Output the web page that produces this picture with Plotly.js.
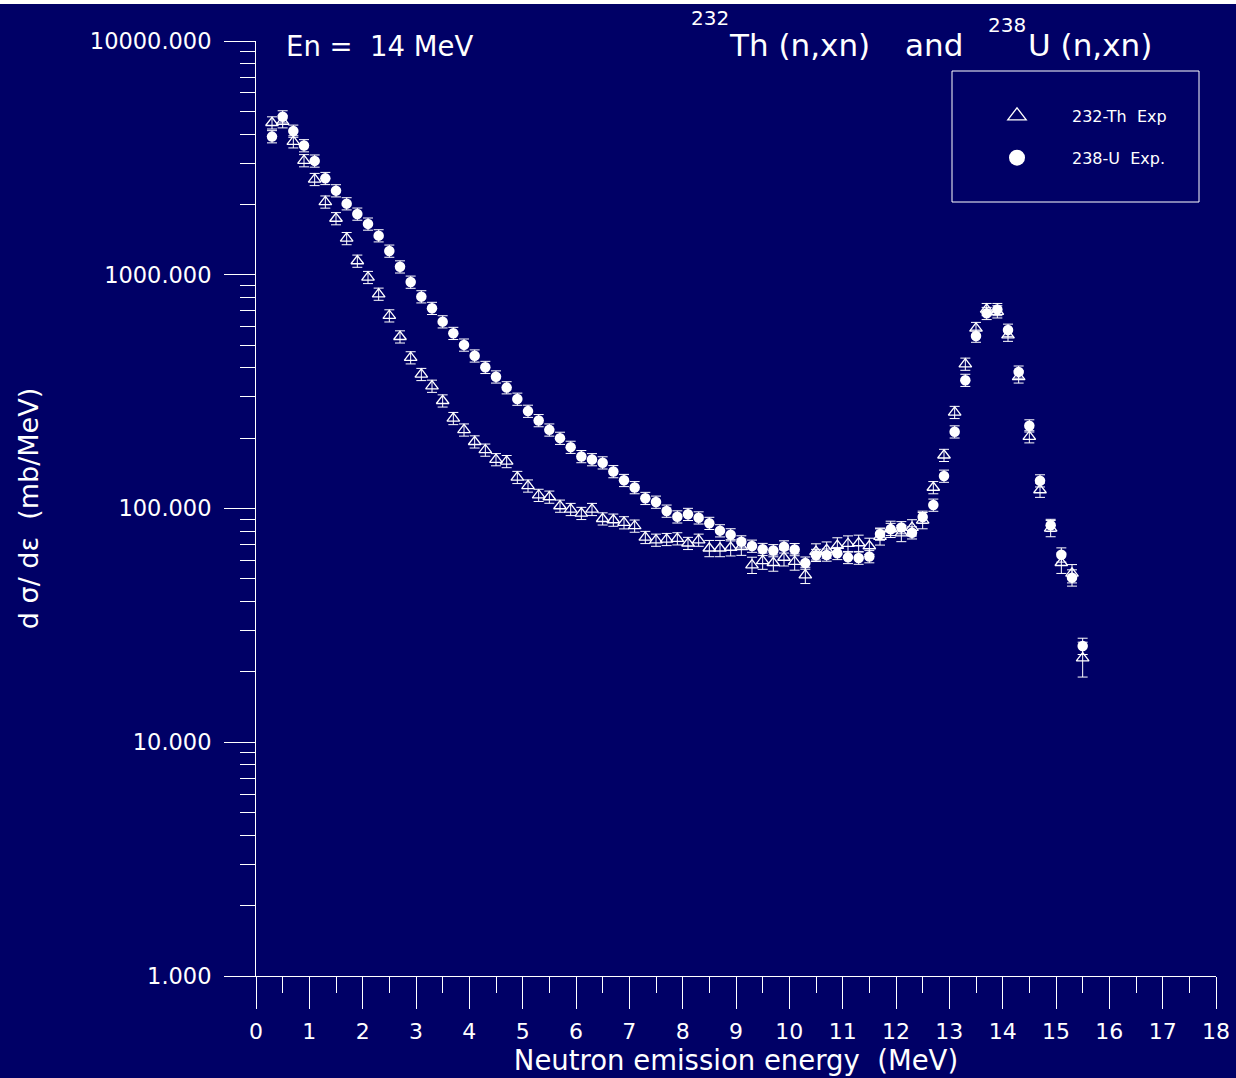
<!DOCTYPE html>
<html>
<head>
<meta charset="utf-8">
<script src="https://cdn.plot.ly/plotly-3.0.1.min.js"></script>
<style>
  html, body { margin: 0; padding: 0; background: #000066; }
  #chart { width: 1236px; height: 1078px; }
</style>
</head>
<body>
<div id="chart"></div>
<script>
// Neutron emission energy (MeV)
const energy = [0.3,0.5,0.7,0.9,1.1,1.3,1.5,1.7,1.9,2.1,2.3,2.5,2.7,2.9,3.1,3.3,3.5,3.7,3.9,4.1,
  4.3,4.5,4.7,4.9,5.1,5.3,5.5,5.7,5.9,6.1,6.3,6.5,6.7,6.9,7.1,7.3,7.5,7.7,7.9,8.1,
  8.3,8.5,8.7,8.9,9.1,9.3,9.5,9.7,9.9,10.1,10.3,10.5,10.7,10.9,11.1,11.3,11.5,11.7,11.9,12.1,
  12.3,12.5,12.7,12.9,13.1,13.3,13.5,13.7,13.9,14.1,14.3,14.5,14.7,14.9,15.1,15.3,15.5];

// 232-Th experimental dσ/dε (mb/MeV)
const thValues = [4470,4520,3710,3080,2560,2050,1740,1430,1145,975,
  827,668,543,442,375,334,289,243,217,193,
  178,162,159,136,125,114,112,102.5,99.2,95.4,
  99.2,90.4,89.3,87.0,84.2,75.3,73.3,73.8,74.3,71.0,
  73.3,67.6,67.6,68.1,68.5,57.3,59.7,58.6,61.7,59.2,
  51.9,65.4,66.6,69.4,70.7,71.2,69.1,75.8,81.7,78.4,
  82.9,89.0,123,169,258,415,590,711,695,552,
  366,203,120,82.3,58.6,52.8,22.9];
const thErrPct = [6,6,6,6,6,6,6,6,6,6, 6,6,6,6,6,6,6,6,6,6,
  6,6,6,6,6,6,6,6,6,6, 6,6,6,6,6,6,6,6,6,6,
  6,8,8,8,8,8,8,8,8,8, 8,8,8,8,8,8,8,8,8,8,
  8,8,6,6,6,6,6,6,6,6, 6,6,7,8,10,9,17];

// 238-U experimental dσ/dε (mb/MeV)
const uValues = [3900,4745,4120,3570,3070,2585,2290,2015,1820,1650,
  1470,1264,1082,931,806,719,630,562,501,450,
  402,366,329,294,261,238,217,200,183,167,
  162,157,144,132,123,110.6,106.6,97.6,92.2,94.5,
  91.3,86.5,80.4,77.3,72.1,69.1,66.9,66.1,68.6,66.8,
  58.5,63.1,63.3,64.3,61.8,61.4,62.3,77.8,81.5,82.9,
  78.8,91.9,103.5,137.7,213,354,547,684,711,580,
  384,226,131.5,84.8,63.4,50.6,25.8];
const uErrPct = [6,6,6,6,6,6,6,6,6,6, 6,6,6,6,6,6,6,6,6,6,
  6,6,6,6,6,6,6,6,6,6, 6,6,6,6,6,6,6,6,6,6,
  6,6,6,6,6,6,6,6,6,6, 6,6,6,6,6,6,6,6,6,6,
  6,6,6,6,6,6,6,6,6,6, 6,6,6,6,7,8,8];

const seriesNames = ['232-Th  Exp', '238-U  Exp.'];
const xTickVals = [0,1,2,3,4,5,6,7,8,9,10,11,12,13,14,15,16,17,18];
const yTickVals = [1,10,100,1000,10000];
const yTickText = ['1.000','10.000','100.000','1000.000','10000.000'];

const NAVY = '#000066';
const FONT = 'DejaVu Sans, Verdana, sans-serif';

const thErr = thValues.map((v, i) => v * thErrPct[i] / 100);
const uErr = uValues.map((v, i) => v * uErrPct[i] / 100);

const traces = [
  {
    x: energy, y: thValues, type: 'scatter', mode: 'markers', name: seriesNames[0],
    showlegend: false,
    marker: { symbol: 'triangle-up-open', size: 11, color: 'white', line: { color: 'white', width: 1.3 } },
    error_y: { type: 'data', array: thErr, visible: true, color: 'white', thickness: 1, width: 5 }
  },
  {
    x: energy, y: uValues, type: 'scatter', mode: 'markers', name: seriesNames[1],
    showlegend: false,
    marker: { symbol: 'circle', size: 10.5, color: 'white' },
    error_y: { type: 'data', array: uErr, visible: true, color: 'white', thickness: 1, width: 5 }
  },
  // legend entries (larger symbols, as in the original key)
  {
    x: [null], y: [null], type: 'scatter', mode: 'markers', name: seriesNames[0], legendgroup: 'th',
    marker: { symbol: 'triangle-up-open', size: 16, color: 'white', line: { color: 'white', width: 1.3 } }
  },
  {
    x: [null], y: [null], type: 'scatter', mode: 'markers', name: seriesNames[1], legendgroup: 'u',
    marker: { symbol: 'circle', size: 16, color: 'white' }
  }
];

// pixel helpers for layout placement (plot area 256..1216 x 41..976)
const px = p => (p - 256) / 960;
const py = p => (976 - p) / 935;

const layout = {
  width: 1236, height: 1078,
  paper_bgcolor: NAVY, plot_bgcolor: NAVY,
  font: { family: FONT, color: 'white' },
  margin: { l: 256, r: 20, t: 41, b: 102 },
  showlegend: true,
  legend: {
    x: px(962), y: py(99), xanchor: 'left', yanchor: 'top',
    bgcolor: 'rgba(0,0,0,0)', borderwidth: 0,
    font: { family: FONT, size: 16, color: 'white' },
    tracegroupgap: 18, itemwidth: 100
  },
  xaxis: {
    range: [0, 18], tickvals: xTickVals, ticks: 'outside', ticklen: 32, tickwidth: 1, tickcolor: 'white',
    minor: { dtick: 0.5, ticks: 'outside', ticklen: 16, tickcolor: 'white', tickwidth: 1, showgrid: false },
    showline: true, linecolor: 'white', linewidth: 1, showgrid: false, zeroline: false,
    tickfont: { family: FONT, size: 22, color: 'white' }, ticklabelstandoff: 4,
    title: { text: 'Neutron emission energy  (MeV)', font: { family: FONT, size: 27.5, color: 'white' }, standoff: 2 }
  },
  yaxis: {
    type: 'log', range: [0, 4], tickvals: yTickVals, ticktext: yTickText,
    ticks: 'outside', ticklen: 31, tickwidth: 1, tickcolor: 'white',
    minor: { dtick: 'D1', ticks: 'outside', ticklen: 15, tickcolor: 'white', tickwidth: 1, showgrid: false },
    showline: true, linecolor: 'white', linewidth: 1, showgrid: false, zeroline: false,
    tickfont: { family: FONT, size: 22.5, color: 'white' }, ticklabelstandoff: 8,
    title: { text: 'd σ/ dε  (mb/MeV)', font: { family: FONT, size: 27, color: 'white' }, standoff: 43 }
  },
  shapes: [
    { type: 'rect', xref: 'paper', yref: 'paper', x0: px(-10), x1: px(1300), y0: py(4), y1: py(-10),
      fillcolor: 'white', line: { width: 0 }, layer: 'above' },
    { type: 'rect', xref: 'paper', yref: 'paper', x0: px(952), x1: px(1199), y0: py(202), y1: py(71),
      fillcolor: 'rgba(0,0,0,0)', line: { color: 'white', width: 1 } }
  ],
  annotations: [
    { xref: 'paper', yref: 'paper', x: px(284), y: py(46), xanchor: 'left', yanchor: 'middle', showarrow: false,
      text: 'En =  14 MeV', font: { family: FONT, size: 27.5, color: 'white' } },
    { xref: 'paper', yref: 'paper', x: px(689), y: py(18), xanchor: 'left', yanchor: 'middle', showarrow: false,
      text: '232', font: { family: FONT, size: 20, color: 'white' } },
    { xref: 'paper', yref: 'paper', x: px(727), y: py(45), xanchor: 'left', yanchor: 'middle', showarrow: false,
      text: 'Th (n,xn)', font: { family: FONT, size: 31, color: 'white' } },
    { xref: 'paper', yref: 'paper', x: px(903), y: py(45), xanchor: 'left', yanchor: 'middle', showarrow: false,
      text: 'and', font: { family: FONT, size: 31, color: 'white' } },
    { xref: 'paper', yref: 'paper', x: px(986), y: py(25), xanchor: 'left', yanchor: 'middle', showarrow: false,
      text: '238', font: { family: FONT, size: 20, color: 'white' } },
    { xref: 'paper', yref: 'paper', x: px(1026), y: py(45), xanchor: 'left', yanchor: 'middle', showarrow: false,
      text: 'U (n,xn)', font: { family: FONT, size: 31, color: 'white' } }
  ]
};

Plotly.newPlot('chart', traces, layout, { displayModeBar: false, staticPlot: true });
</script>
</body>
</html>
